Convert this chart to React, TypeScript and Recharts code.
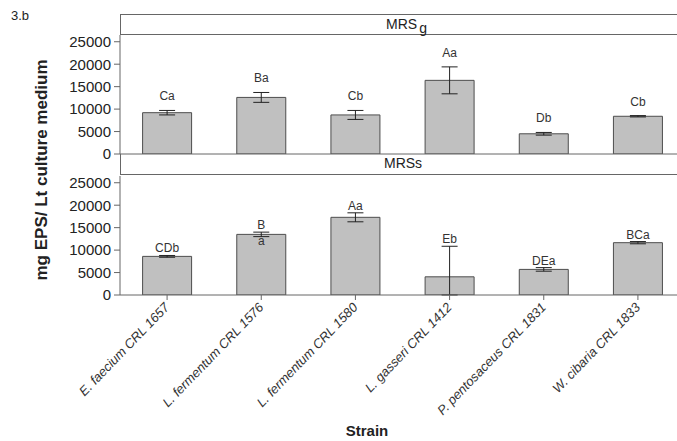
import { BarChart, Bar, XAxis, YAxis, ErrorBar, LabelList } from "recharts"

// Strains on the x axis
const strains = [
  "E. faecium CRL 1657",
  "L. fermentum CRL 1576",
  "L. fermentum CRL 1580",
  "L. gasseri CRL 1412",
  "P. pentosaceus CRL 1831",
  "W. cibaria CRL 1833",
]

// MRSg panel
const mrsgValues = [9200, 12600, 8700, 16400, 4500, 8400]
const mrsgErrors = [500, 1100, 1000, 3000, 300, 150]
const mrsgLabels = ["Ca", "Ba", "Cb", "Aa", "Db", "Cb"]

// MRSs panel
const mrssValues = [8600, 13500, 17300, 4050, 5700, 11650]
const mrssErrors = [200, 500, 1000, 6800, 400, 250]
const mrssLabels = ["CDb", "B\na", "Aa", "Eb", "DEa", "BCa"]

const yTicks = [0, 5000, 10000, 15000, 20000, 25000]
const Y_MAX = 26500
const PLOT_H = 119

// error bars stop at the x axis, so the lower arm is capped at the bar value
const gData = strains.map((s, i) => ({
  strain: s,
  value: mrsgValues[i],
  err: [Math.min(mrsgErrors[i], mrsgValues[i]), mrsgErrors[i]],
}))
const sData = strains.map((s, i) => ({
  strain: s,
  value: mrssValues[i],
  err: [Math.min(mrssErrors[i], mrssValues[i]), mrssErrors[i]],
}))

const FONT = "'Liberation Sans', Arial, sans-serif"
const AXIS = "#666"
const TEXT = "#222"

function makeLabel(labels: string[], errors: number[], gap: number) {
  return (props: any) => {
    const { x, y, width, index } = props
    const cx = x + width / 2
    const errTop = y - (errors[index] * PLOT_H) / Y_MAX
    const parts = String(labels[index]).split("\n")
    return (
      <g>
        <text x={cx} y={errTop - gap} textAnchor="middle" fontSize={12} fill="#333" fontFamily={FONT}>
          {parts[0]}
        </text>
        {parts[1] && (
          <text x={cx} y={y + 11} textAnchor="middle" fontSize={12} fill="#333" fontFamily={FONT}>
            {parts[1]}
          </text>
        )}
      </g>
    )
  }
}

function StrainTick(props: any) {
  const { x, y, payload } = props
  return (
    <g transform={`translate(${x + 3},${y + 6})`}>
      <text
        x={0}
        y={0}
        textAnchor="end"
        transform="rotate(-46)"
        fontSize={13}
        fontStyle="italic"
        fill="#333"
        fontFamily={FONT}
      >
        {payload.value}
      </text>
    </g>
  )
}

const stripStyle = {
  position: "absolute" as const,
  left: 120,
  width: 600,
  height: 21,
  borderLeft: `1px solid ${AXIS}`,
  boxSizing: "border-box" as const,
  fontSize: 14,
  color: TEXT,
  lineHeight: "20px",
}

const yTick = { fontSize: 15, fill: TEXT, fontFamily: FONT }

export default function App() {
  return (
    <div
      style={{
        position: "absolute",
        left: 0,
        top: 0,
        width: 677,
        height: 441,
        overflow: "hidden",
        background: "#fff",
        fontFamily: FONT,
      }}
    >
      <div style={{ position: "absolute", left: 11, top: 8, fontSize: 13, color: TEXT }}>3.b</div>

      {/* MRSg strip */}
      <div style={{ ...stripStyle, top: 14, borderTop: `1px solid ${AXIS}`, borderBottom: `1px solid ${AXIS}` }}>
        <span style={{ position: "absolute", left: 265, top: -1 }}>
          MRS<span style={{ position: "relative", top: 4, marginLeft: 2 }}>g</span>
        </span>
      </div>
      {/* MRSs strip */}
      <div style={{ ...stripStyle, top: 154, borderBottom: `1px solid ${AXIS}` }}>
        <span style={{ position: "absolute", left: 263, top: -1 }}>MRSs</span>
      </div>

      <div style={{ position: "absolute", left: 0, top: 0 }}>
        <BarChart width={685} height={164} data={gData} margin={{ top: 35, right: 0, bottom: 0, left: 0 }} barCategoryGap="24%">
          <XAxis dataKey="strain" height={10} tick={false} tickLine={false} axisLine={{ stroke: AXIS }} />
          <YAxis
            width={120}
            domain={[0, Y_MAX]}
            ticks={yTicks}
            allowDataOverflow
            tickSize={6}
            tickMargin={3}
            axisLine={{ stroke: AXIS }}
            tickLine={{ stroke: AXIS }}
            tick={yTick}
          />
          <Bar dataKey="value" fill="#c0c0c0" stroke="#4d4d4d" strokeWidth={1} isAnimationActive={false}>
            <ErrorBar dataKey="err" width={8} stroke="#222" strokeWidth={1} />
            <LabelList dataKey="value" content={makeLabel(mrsgLabels, mrsgErrors, 10)} />
          </Bar>
        </BarChart>
      </div>

      <div style={{ position: "absolute", left: 0, top: 0 }}>
        <BarChart width={685} height={441} data={sData} margin={{ top: 176, right: 0, bottom: 0, left: 0 }} barCategoryGap="24%">
          <XAxis
            dataKey="strain"
            height={146}
            interval={0}
            tickSize={5}
            axisLine={{ stroke: AXIS }}
            tickLine={{ stroke: AXIS }}
            tick={<StrainTick />}
          />
          <YAxis
            width={120}
            domain={[0, Y_MAX]}
            ticks={yTicks}
            allowDataOverflow
            tickSize={6}
            tickMargin={3}
            axisLine={{ stroke: AXIS }}
            tickLine={{ stroke: AXIS }}
            tick={yTick}
          />
          <Bar dataKey="value" fill="#c0c0c0" stroke="#4d4d4d" strokeWidth={1} isAnimationActive={false}>
            <ErrorBar dataKey="err" width={8} stroke="#222" strokeWidth={1} />
            <LabelList dataKey="value" content={makeLabel(mrssLabels, mrssErrors, 3)} />
          </Bar>
        </BarChart>
      </div>

      <div
        style={{
          position: "absolute",
          left: 42,
          top: 170,
          transform: "translate(-50%, -50%) rotate(-90deg)",
          whiteSpace: "nowrap",
          fontSize: 17,
          fontWeight: "bold",
          color: TEXT,
        }}
      >
        mg EPS/ Lt culture medium
      </div>
      <div
        style={{
          position: "absolute",
          left: 367,
          top: 431,
          transform: "translate(-50%, -50%)",
          fontSize: 15,
          fontWeight: "bold",
          color: TEXT,
          lineHeight: "16px",
        }}
      >
        Strain
      </div>
    </div>
  )
}
